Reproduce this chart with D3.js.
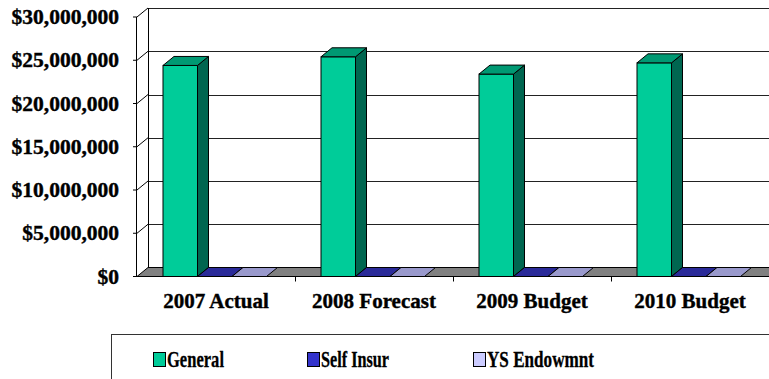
<!DOCTYPE html>
<html>
<head>
<meta charset="utf-8">
<script src="https://cdn.jsdelivr.net/npm/d3@7"></script>
<style>
  body { margin: 0; background: #fff; }
</style>
</head>
<body>
<div id="chart"></div>
<script>
// data
var categories = ["2007 Actual", "2008 Forecast", "2009 Budget", "2010 Budget"];
var series = ["General", "Self Insur", "YS Endowmnt"];
var general = [24400000, 25400000, 23400000, 24700000];
var selfInsur = [0, 0, 0, 0];
var ysEndowmnt = [0, 0, 0, 0];
var yTicks = [0, 5000000, 10000000, 15000000, 20000000, 25000000, 30000000];

var serif = "'Liberation Serif', 'Times New Roman', Times, serif";

function init() {
    var width = 769;
    var height = 379;
    var depthX = 11, depthY = -9;   // 3d offset of the back wall

    var svg = d3.select("#chart")
        .append("svg")
        .attr("width", width)
        .attr("height", height)
        .style("font-family", serif)
        .style("font-weight", "bold");

    var y = d3.scaleLinear()
        .domain([0, 30000000])
        .range([276.5, 17]);

    var x = d3.scaleBand()
        .domain(categories)
        .range([137, 769]);

    var xs = d3.scaleBand()
        .domain(series)
        .range([26, 26 + 3 * 34.5]);

    var faces = {
        "General": { front: "#00cc99", top: "#009973", side: "#006650" },
        "Self Insur": { front: "#3333cc", top: "#2a2a99", side: "#1a1a66" },
        "YS Endowmnt": { front: "#ccccff", top: "#9999cc", side: "#666699" }
    };
    var legendColor = { "General": "#00cc99", "Self Insur": "#3333cc", "YS Endowmnt": "#ccccff" };

    var values = { "General": general, "Self Insur": selfInsur, "YS Endowmnt": ysEndowmnt };

    var x0 = x.range()[0], x1 = x.range()[1] + 13;
    var y0 = y(0);

    // back wall
    svg.append("rect")
        .attr("x", x0 + depthX).attr("y", y(30000000) + depthY)
        .attr("width", x1 - x0).attr("height", y0 - y(30000000))
        .attr("fill", "#fff");

    // gridlines on back wall
    svg.selectAll(".grid")
        .data(yTicks.slice(1))
        .enter()
        .append("line")
        .attr("x1", x0 + depthX).attr("x2", x1 + depthX)
        .attr("y1", d => Math.round(y(d) + depthY) + 0.5)
        .attr("y2", d => Math.round(y(d) + depthY) + 0.5)
        .attr("stroke", "#222")
        .attr("stroke-width", 1);

    // left side wall: diagonals from front ticks to back wall
    svg.selectAll(".diag")
        .data(yTicks.slice(1))
        .enter()
        .append("line")
        .attr("x1", x0).attr("y1", d => y(d))
        .attr("x2", x0 + depthX).attr("y2", d => y(d) + depthY)
        .attr("stroke", "#000");

    svg.append("line")
        .attr("x1", x0 + depthX + 0.5).attr("x2", x0 + depthX + 0.5)
        .attr("y1", y(30000000) + depthY).attr("y2", y0 + depthY)
        .attr("stroke", "#000");

    // floor
    svg.append("path")
        .attr("d", d3.line()([[x0, y0], [x1, y0], [x1 + depthX, y0 + depthY], [x0 + depthX, y0 + depthY]]) + "Z")
        .attr("fill", "#808080")
        .attr("stroke", "#000");

    // bars
    var bars = [];
    series.forEach(function (s) {
        categories.forEach(function (c, i) {
            bars.push({ s: s, c: c, v: values[s][i] });
        });
    });

    bars.forEach(function (d) {
        var bx = x(d.c) + xs(d.s);
        var bw = xs.bandwidth();
        var by = y(d.v);
        var f = faces[d.s];
        var g = svg.append("g");
        if (d.v > 0) {
            g.append("rect")
                .attr("x", bx).attr("y", by)
                .attr("width", bw).attr("height", y0 - by)
                .attr("fill", f.front).attr("stroke", "#000");
            g.append("path")
                .attr("d", d3.line()([[bx + bw, by], [bx + bw + depthX, by + depthY], [bx + bw + depthX, y0 + depthY], [bx + bw, y0]]) + "Z")
                .attr("fill", f.side).attr("stroke", "#000");
        }
        g.append("path")
            .attr("d", d3.line()([[bx, by], [bx + bw, by], [bx + bw + depthX, by + depthY], [bx + depthX, by + depthY]]) + "Z")
            .attr("fill", f.top).attr("stroke", "#000");
    });

    // front value axis
    svg.append("line")
        .attr("x1", x0 - 0.5).attr("x2", x0 - 0.5)
        .attr("y1", y(30000000)).attr("y2", y0)
        .attr("stroke", "#000");

    svg.selectAll(".ytick")
        .data(yTicks)
        .enter()
        .append("line")
        .attr("x1", x0 - 4).attr("x2", x0)
        .attr("y1", d => y(d)).attr("y2", d => y(d))
        .attr("stroke", "#000");

    svg.selectAll(".ylab")
        .data(yTicks)
        .enter()
        .append("text")
        .attr("x", 119)
        .attr("y", d => y(d) + 7)
        .attr("text-anchor", "end")
        .attr("font-family", serif)
        .attr("font-weight", "bold")
        .attr("font-size", 21.5)
        .attr("stroke", "#000")
        .attr("stroke-width", 0.4)
        .text(d => d3.format("$,")(d));

    // category axis
    svg.append("line")
        .attr("x1", x0 - 4).attr("x2", width)
        .attr("y1", y0).attr("y2", y0)
        .attr("stroke", "#000");

    svg.selectAll(".xtick")
        .data(categories.slice(1))
        .enter()
        .append("line")
        .attr("x1", d => x(d) + 0.5).attr("x2", d => x(d) + 0.5)
        .attr("y1", y0).attr("y2", y0 + 5)
        .attr("stroke", "#000");

    svg.selectAll(".xlab")
        .data(categories)
        .enter()
        .append("text")
        .attr("x", d => x(d) + x.bandwidth() / 2)
        .attr("y", 308)
        .attr("text-anchor", "middle")
        .attr("font-family", serif)
        .attr("font-weight", "bold")
        .attr("font-size", 21)
        .attr("stroke", "#000")
        .attr("stroke-width", 0.4)
        .text(d => d);

    // legend
    svg.append("rect")
        .attr("x", 111.5).attr("y", 334.5)
        .attr("width", 700).attr("height", 100)
        .attr("fill", "#fff").attr("stroke", "#333");

    var legendX = [153, 307, 473];
    var legendW = [57, 68, 107];
    var lg = svg.selectAll(".leg")
        .data(series)
        .enter()
        .append("g")
        .attr("transform", (d, i) => "translate(" + legendX[i] + ",352)");

    lg.append("rect")
        .attr("x", 0.5).attr("y", 0.5)
        .attr("width", 12).attr("height", 14)
        .attr("fill", d => legendColor[d])
        .attr("stroke", "#000");

    lg.append("text")
        .attr("x", 14)
        .attr("y", 14.5)
        .attr("font-family", serif)
        .attr("font-weight", "bold")
        .attr("font-size", 22.5)
        .attr("stroke", "#000")
        .attr("stroke-width", 0.3)
        .attr("textLength", (d, i) => legendW[i])
        .attr("lengthAdjust", "spacingAndGlyphs")
        .text(d => d);
}

window.onload = init;
</script>
</body>
</html>
